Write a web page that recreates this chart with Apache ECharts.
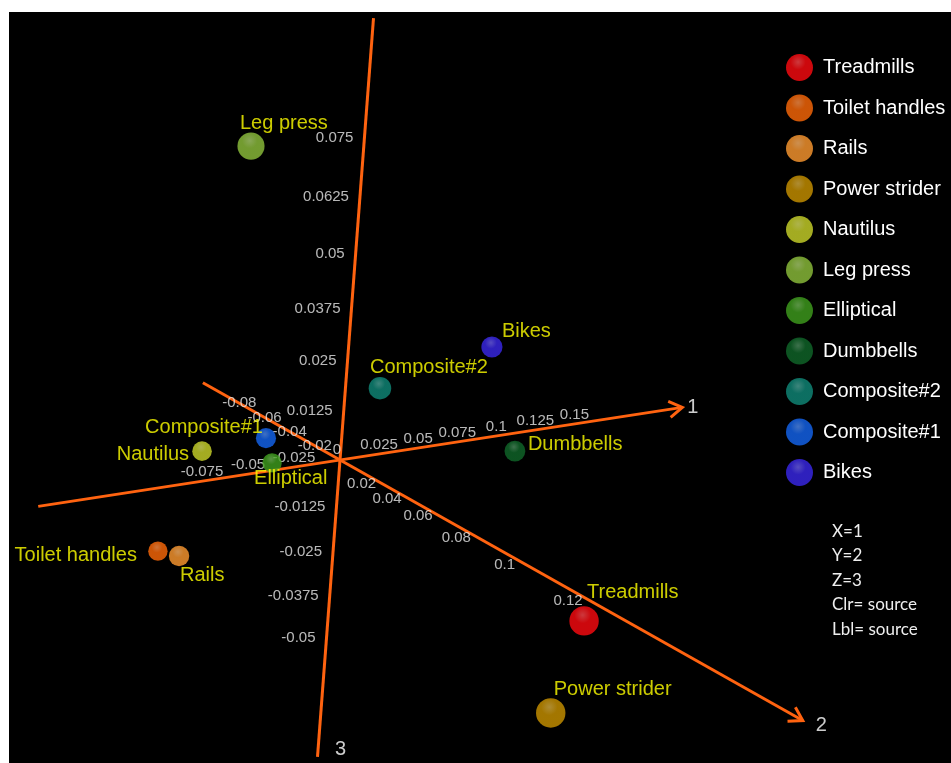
<!DOCTYPE html>
<html>
<head>
<meta charset="utf-8">
<script src="https://cdn.jsdelivr.net/npm/echarts@6/dist/echarts.min.js"></script>
<style>
html,body{margin:0;padding:0;background:#fff;}
#chart{width:951px;height:763px;}
</style>
</head>
<body>
<div id="chart"></div>
<script>
// ---------------- data ----------------
const sources = ['Treadmills','Toilet handles','Rails','Power strider','Nautilus','Leg press','Elliptical','Dumbbells','Composite#2','Composite#1','Bikes'];
const pc1 = [0.012, -0.0819, -0.0845, -0.027, -0.0546, -0.089, -0.0156, 0.1128, 0.0117, -0.0272, 0.1013];
const pc2 = [0.12, -0.02, 0.0, 0.13, -0.03, 0.04, -0.03, 0.0, 0.015, -0.02, -0.01];
const pc3 = [-0.0094, -0.0222, -0.0194, -0.0257, 0.0008, 0.0839, -0.0052, -0.0048, 0.0198, 0.0040, 0.0207];
const axis1Ticks = [-0.075, -0.05, -0.025, 0.025, 0.05, 0.075, 0.1, 0.125, 0.15];
const axis2Ticks = [-0.08, -0.06, -0.04, -0.02, 0.02, 0.04, 0.06, 0.08, 0.1, 0.12];
const axis3Ticks = [-0.05, -0.0375, -0.025, -0.0125, 0.0125, 0.025, 0.0375, 0.05, 0.0625, 0.075];
const axisNames = ['1', '2', '3'];
const axisExtents = [[-0.164, 0.219], [-0.109, 0.163], [-0.0877, 0.0989]];
const noteLines = ['X=1', 'Y=2', 'Z=3', 'Clr= source', 'Lbl= source'];

// ---------------- styles ----------------
const colors = {
  'Treadmills':'#ff0a10','Toilet handles':'#ff6a08','Rails':'#ff9a30','Power strider':'#cc9400',
  'Nautilus':'#ccd62a','Leg press':'#8fc23c','Elliptical':'#40a01e','Dumbbells':'#10682a',
  'Composite#2':'#108a7a','Composite#1':'#1466f2','Bikes':'#3a28ec'
};
// label placement per source: [align, dx, dy]
const labelPlace = {
  'Treadmills':['left',3,-28],'Toilet handles':['right',-21,4],'Rails':['left',1,20],
  'Power strider':['left',3,-23],'Nautilus':['right',-13,3],'Leg press':['left',-11,-23],
  'Elliptical':['left',-18,16],'Dumbbells':['left',13,-7],'Composite#2':['left',-10,-21],
  'Composite#1':['right',-3,-11],'Bikes':['left',10,-16]
};
// view (camera) of the 3D scene: per-axis screen direction and perspective scale
const view = {
  origin: [340, 460],
  axes: [
    {dir:[1,-0.1537], pos:{A:1563,B:0}, neg:{A:1840,B:0}},
    {dir:[1,0.563],   pos:{A:988,B:4},  neg:{A:1258,B:0}},
    {dir:[0.0758,-1], pos:{A:3821,B:1.466}, neg:{A:3821,B:1.466}}
  ]
};
function axisDist(i, v){
  const s = v >= 0 ? view.axes[i].pos : view.axes[i].neg;
  return s.A * v / (1 - s.B * v);
}
function project(p){
  let x = view.origin[0], y = view.origin[1];
  for (let i = 0; i < 3; i++){
    const d = axisDist(i, p[i]);
    x += d * view.axes[i].dir[0];
    y += d * view.axes[i].dir[1];
  }
  return [x, y];
}
function onAxis(i, v){ const p = [0,0,0]; p[i] = v; return project(p); }
function radiusOf(p){ return 10.5 / (1 - 2.5 * p[1] - 1.5 * p[2]); }

function mix(hex, target, t){
  const n = parseInt(hex.slice(1), 16);
  const r = (n >> 16) & 255, g = (n >> 8) & 255, b = n & 255;
  const m = c => Math.round(c + (target - c) * t);
  return 'rgb(' + m(r) + ',' + m(g) + ',' + m(b) + ')';
}
function sphereFill(hex){
  return new echarts.graphic.RadialGradient(0.45, 0.3, 0.8, [
    {offset:0, color:mix(hex,255,0.25)},
    {offset:0.35, color:hex},
    {offset:0.85, color:hex},
    {offset:1, color:mix(hex,0,0.25)}
  ]);
}

const FONT = '"Liberation Sans", Arial, sans-serif';
const AXIS_COLOR = '#ff6310';

// ---------------- series ----------------
const series = [];

// axis lines with arrows
series.push({
  type:'custom', name:'axes', coordinateSystem:'cartesian2d', silent:true, z:1,
  data: axisNames.map((n, i) => [i]),
  renderItem: function(params, api){
    const i = api.value(0);
    const e = axisExtents[i];
    const p0 = api.coord(onAxis(i, e[0]));
    const p1 = api.coord(onAxis(i, e[1]));
    const children = [{
      type:'line', shape:{x1:p0[0], y1:p0[1], x2:p1[0], y2:p1[1]},
      style:{stroke:AXIS_COLOR, lineWidth:3}
    }];
    if (i < 2){
      const dx = p1[0]-p0[0], dy = p1[1]-p0[1], L = Math.hypot(dx, dy);
      const ux = dx/L, uy = dy/L, nx = -uy, ny = ux;
      const back = 13, wing = 8;
      children.push({
        type:'polyline',
        shape:{points:[[p1[0]-back*ux+wing*nx, p1[1]-back*uy+wing*ny],[p1[0],p1[1]],[p1[0]-back*ux-wing*nx, p1[1]-back*uy-wing*ny]]},
        style:{stroke:AXIS_COLOR, lineWidth:3, fill:null, lineJoin:'miter'}
      });
    }
    return {type:'group', children: children};
  }
});

// tick labels
const tickData = [];
axis1Ticks.forEach(v => tickData.push({value:onAxis(0, v), label:{formatter:String(v), offset:[0,-9], align:'center'}}));
axis2Ticks.forEach(v => tickData.push({value:onAxis(1, v), label:{formatter:String(v), offset:[0, v > 0 ? 12 : 0], align:'center'}}));
axis3Ticks.forEach(v => tickData.push({value:onAxis(2, v), label:{formatter:String(v), offset:[-11,0], align:'right'}}));
tickData.push({value:project([0,0,0]), label:{formatter:'0', offset:[-3,-10], align:'center'}});
series.push({
  type:'scatter', name:'ticks', silent:true, symbolSize:0, z:3,
  data: tickData,
  label:{show:true, position:'inside', verticalAlign:'middle', color:'#e6e6e6', fontSize:15, fontFamily:FONT}
});

// axis names
const axisNameOffsets = [['left',5,0],['left',13,5],['center',23,-7]];
series.push({
  type:'scatter', name:'axisNames', silent:true, symbolSize:0, z:3,
  data: axisNames.map((n, i) => {
    const end = i < 2 ? axisExtents[i][1] : axisExtents[i][0];
    const o = axisNameOffsets[i];
    return {value:onAxis(i, end), label:{formatter:n, align:o[0], offset:[o[1], o[2]]}};
  }),
  label:{show:true, position:'inside', verticalAlign:'middle', color:'#ffffff', fontSize:20, fontFamily:FONT}
});

// one series per source (sphere + label)
sources.forEach((name, i) => {
  const p = [pc1[i], pc2[i], pc3[i]];
  const lp = labelPlace[name];
  series.push({
    type:'scatter', name:name, z:5,
    data:[{value:project(p), symbolSize:2*radiusOf(p)}],
    itemStyle:{color:sphereFill(colors[name])},
    emphasis:{disabled:true},
    label:{show:true, formatter:name, position:'inside', align:lp[0], verticalAlign:'middle',
      offset:[lp[1], lp[2]], color:'#ffff00', fontSize:20, fontFamily:FONT}
  });
});

const chart = echarts.init(document.getElementById('chart'), null, {renderer:'canvas'});
chart.setOption({
  animation:false,
  backgroundColor:'#ffffff',
  grid:{left:9, top:12, right:0, bottom:0, show:true, backgroundColor:'#000000', borderWidth:0},
  xAxis:{type:'value', min:9, max:951, show:false},
  yAxis:{type:'value', min:12, max:763, inverse:true, show:false},
  legend:{
    data:sources, orient:'vertical', left:786, top:54, padding:0, itemWidth:27, itemHeight:27, itemGap:13.5,
    icon:'circle', selectedMode:false,
    textStyle:{color:'#ffffff', fontSize:20, fontFamily:FONT, padding:[0,0,0,5]}
  },
  graphic: noteLines.map((t, i) => ({
    type:'text', left:832, top:523 + i*24.5,
    style:{text:t, fill:'#eeeeee', font:'17px Lato, sans-serif'}
  })),
  series: series
});
</script>
</body>
</html>
